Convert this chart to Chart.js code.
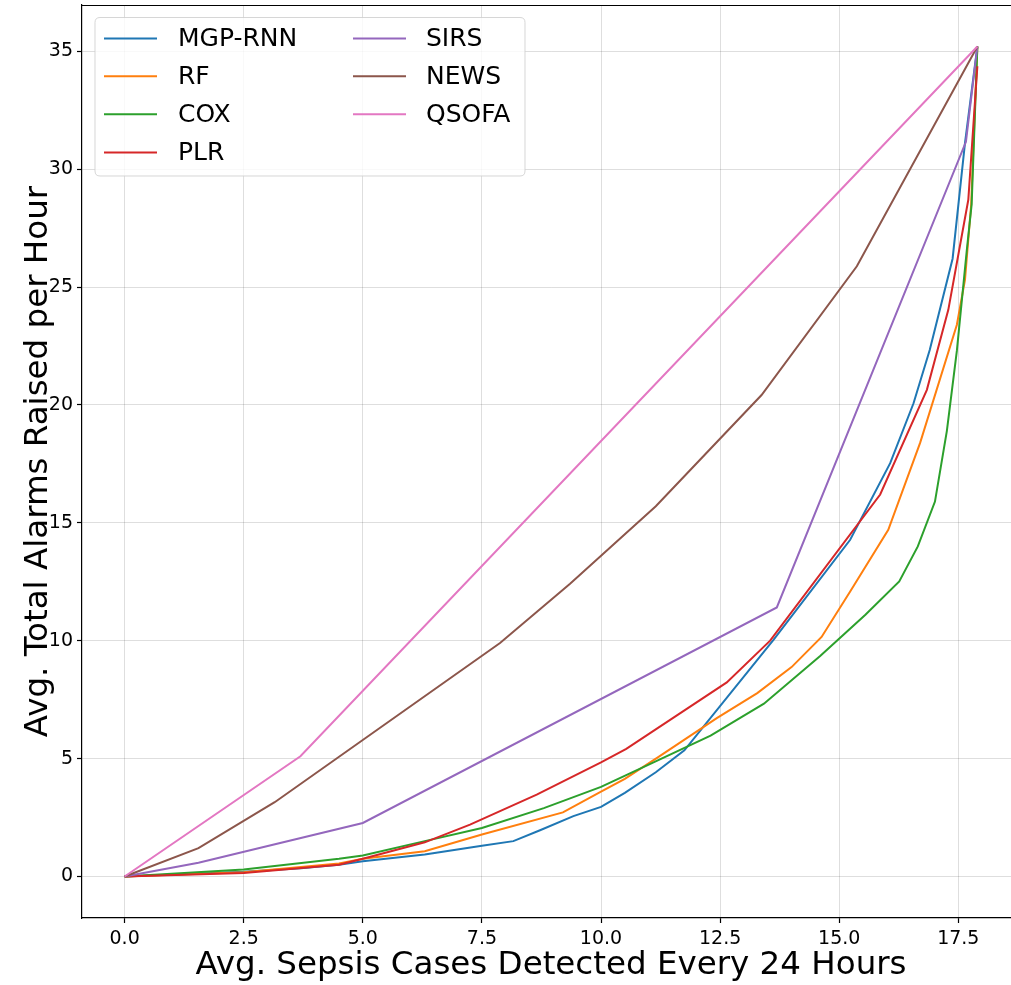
<!DOCTYPE html>
<html>
<head>
<meta charset="utf-8">
<script src="https://cdn.jsdelivr.net/npm/chart.js@4.4.1/dist/chart.umd.min.js"></script>
<style>
  html, body { margin: 0; padding: 0; background: #fff; overflow: hidden; width: 1011px; height: 985px; }
  #wrap { position: absolute; left: 0; top: 0; width: 1030px; height: 985px; }
</style>
</head>
<body>
<div id="wrap"><canvas id="c" width="1030" height="985"></canvas></div>
<script>
// Alarm burden vs. detected sepsis cases, one curve per scoring method
const seriesNames = ['MGP-RNN', 'RF', 'COX', 'PLR', 'SIRS', 'NEWS', 'QSOFA'];
const seriesColors = ['#1f77b4', '#ff7f0e', '#2ca02c', '#d62728', '#9467bd', '#8c564b', '#e377c2'];

const mgpRnnX = [0, 2.5, 3.7, 4.5, 5.0, 6.3, 7.5, 8.16, 8.72, 9.42, 10.0, 10.5, 11.15, 11.75, 13.62, 15.23, 16.07, 16.56, 16.9, 17.38, 17.64, 17.9];
const mgpRnnY = [0, 0.2, 0.35, 0.5, 0.65, 0.93, 1.3, 1.5, 1.96, 2.56, 2.95, 3.55, 4.42, 5.35, 10.04, 14.28, 17.53, 20.07, 22.33, 26.2, 31.1, 35.2];

const rfX = [0, 2.5, 4.5, 5.0, 6.3, 7.5, 9.2, 10.0, 10.5, 11.2, 12.43, 13.28, 14.0, 14.63, 15.23, 16.03, 16.7, 17.47, 17.64, 17.77, 17.9];
const rfY = [0, 0.18, 0.55, 0.75, 1.07, 1.78, 2.72, 3.6, 4.14, 5.06, 6.72, 7.78, 8.88, 10.16, 12.09, 14.7, 18.4, 23.4, 25.3, 28.5, 35.2];

const coxX = [0, 2.5, 4.5, 5.0, 6.3, 7.5, 8.8, 10.0, 11.08, 12.3, 13.42, 14.6, 15.55, 16.26, 16.65, 17.01, 17.26, 17.47, 17.68, 17.78, 17.9];
const coxY = [0, 0.3, 0.75, 0.89, 1.5, 2.06, 2.9, 3.8, 4.82, 5.97, 7.33, 9.35, 11.1, 12.51, 14.0, 15.9, 18.9, 22.3, 26.6, 28.5, 35.2];

const plrX = [0, 2.5, 4.5, 5.0, 6.3, 7.25, 8.65, 10.0, 10.53, 12.64, 13.55, 15.86, 16.84, 17.29, 17.71, 17.9];
const plrY = [0, 0.15, 0.5, 0.75, 1.45, 2.2, 3.47, 4.84, 5.41, 8.23, 10.0, 16.2, 20.64, 24.03, 28.7, 34.36];

const sirsX = [0, 1.55, 5.0, 13.69, 17.66, 17.9];
const sirsY = [0, 0.58, 2.27, 11.41, 31.16, 35.2];

const newsX = [0, 1.55, 3.15, 7.88, 9.35, 11.15, 13.37, 15.37, 17.9];
const newsY = [0, 1.2, 3.15, 9.9, 12.42, 15.7, 20.42, 25.88, 35.2];

const qsofaX = [0, 3.69, 17.9];
const qsofaY = [0, 5.1, 35.2];

const xTickValues = [0, 2.5, 5.0, 7.5, 10.0, 12.5, 15.0, 17.5];
const yTickValues = [0, 5, 10, 15, 20, 25, 30, 35];

const seriesX = [mgpRnnX, rfX, coxX, plrX, sirsX, newsX, qsofaX];
const seriesY = [mgpRnnY, rfY, coxY, plrY, sirsY, newsY, qsofaY];

const FONT = '"DejaVu Sans", "Liberation Sans", sans-serif';

const datasets = seriesNames.map((name, i) => ({
  label: name,
  data: seriesX[i].map((x, k) => ({ x: x, y: seriesY[i][k] })),
  borderColor: seriesColors[i],
  backgroundColor: seriesColors[i],
  borderWidth: 2,
  pointRadius: 0,
  tension: 0,
  fill: false,
  order: seriesNames.length - i   // later series drawn on top
}));

// keep the plot frame fixed: no extra room reserved for edge tick labels
function clearScalePadding(s) {
  s.paddingTop = 0;
  s.paddingBottom = 0;
  s.paddingLeft = 0;
  s.paddingRight = 0;
}

// Top frame line and a two-column legend box
const framePlugin = {
  id: 'frame',
  afterDatasetsDraw(chart) {
    const { ctx, chartArea: a } = chart;
    ctx.save();
    ctx.strokeStyle = '#000';
    ctx.lineWidth = 1.2;
    ctx.beginPath();
    ctx.moveTo(a.left, a.top + 0.5);
    ctx.lineTo(a.right, a.top + 0.5);
    ctx.stroke();
    ctx.restore();
  },
  afterDraw(chart) {
    const { ctx } = chart;
    const bx = 95, by = 17.5, bw = 430, bh = 158.5, r = 5;
    ctx.save();
    ctx.beginPath();
    ctx.moveTo(bx + r, by);
    ctx.lineTo(bx + bw - r, by);
    ctx.quadraticCurveTo(bx + bw, by, bx + bw, by + r);
    ctx.lineTo(bx + bw, by + bh - r);
    ctx.quadraticCurveTo(bx + bw, by + bh, bx + bw - r, by + bh);
    ctx.lineTo(bx + r, by + bh);
    ctx.quadraticCurveTo(bx, by + bh, bx, by + bh - r);
    ctx.lineTo(bx, by + r);
    ctx.quadraticCurveTo(bx, by, bx + r, by);
    ctx.closePath();
    ctx.fillStyle = 'rgba(255,255,255,0.8)';
    ctx.fill();
    ctx.strokeStyle = 'rgba(204,204,204,0.8)';
    ctx.lineWidth = 1;
    ctx.stroke();

    const rows = 4;
    const colLine = [104, 353];
    const colText = [178, 426];
    const rowY = [38.5, 76.3, 114.2, 152.5];
    ctx.font = '25px ' + FONT;
    ctx.textBaseline = 'middle';
    ctx.textAlign = 'left';
    chart.data.datasets.forEach((ds, i) => {
      const col = Math.floor(i / rows), row = i % rows;
      const y = rowY[row];
      ctx.strokeStyle = ds.borderColor;
      ctx.lineWidth = 2;
      ctx.beginPath();
      ctx.moveTo(colLine[col], y);
      ctx.lineTo(colLine[col] + 53, y);
      ctx.stroke();
      ctx.fillStyle = '#000';
      ctx.fillText(ds.label, colText[col], y + 1);
    });
    ctx.restore();
  }
};

new Chart(document.getElementById('c'), {
  type: 'line',
  data: { datasets: datasets },
  options: {
    responsive: false,
    devicePixelRatio: 1,
    animation: false,
    layout: { padding: { top: 5, right: 10, left: 0, bottom: 0 } },
    plugins: {
      legend: { display: false },
      tooltip: { enabled: false },
      title: { display: false }
    },
    scales: {
      x: {
        type: 'linear',
        min: -0.895,
        max: 18.795,
        afterBuildTicks: (s) => { s.ticks = xTickValues.map(v => ({ value: v })); },
        afterFit: (s) => { s.height = 67; clearScalePadding(s); },
        ticks: {
          callback: (v) => Number(v).toFixed(1),
          color: '#000',
          font: { family: FONT, size: 19 },
          padding: 5,
          maxRotation: 0,
          autoSkip: false
        },
        grid: { color: 'rgba(0,0,0,0.13)', lineWidth: 1, tickColor: '#000', tickLength: 5, tickWidth: 1.2 },
        border: { display: true, color: '#000', width: 1.2 },
        title: {
          display: true,
          text: 'Avg. Sepsis Cases Detected Every 24 Hours',
          color: '#000',
          font: { family: FONT, size: 32.5 },
          padding: { top: 0, bottom: 0 }
        }
      },
      y: {
        type: 'linear',
        min: -1.76,
        max: 36.96,
        afterBuildTicks: (s) => { s.ticks = yTickValues.map(v => ({ value: v })); },
        afterFit: (s) => { s.width = 82; clearScalePadding(s); },
        ticks: {
          callback: (v) => String(v),
          color: '#000',
          font: { family: FONT, size: 19 },
          padding: 4,
          autoSkip: false
        },
        grid: { color: 'rgba(0,0,0,0.13)', lineWidth: 1, tickColor: '#000', tickLength: 5, tickWidth: 1.2 },
        border: { display: true, color: '#000', width: 1.2 },
        title: {
          display: true,
          text: 'Avg. Total Alarms Raised per Hour',
          color: '#000',
          font: { family: FONT, size: 32.5 },
          padding: { top: 19, bottom: 0 }
        }
      }
    }
  },
  plugins: [framePlugin]
});
</script>
</body>
</html>
